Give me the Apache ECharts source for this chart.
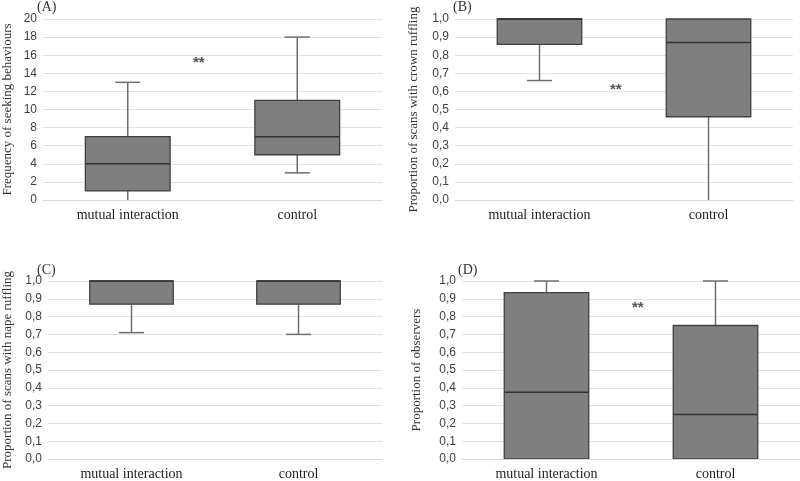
<!DOCTYPE html>
<html><head><meta charset="utf-8">
<script src="https://cdn.jsdelivr.net/npm/echarts@6/dist/echarts.min.js"></script>
<style>html,body{margin:0;padding:0;background:#fff}#c{width:800px;height:481px}</style>
</head><body><div id="c"></div>
<script>
// categories
const categories = ['mutual interaction', 'control'];
// [min, Q1, median, Q3, max] per category
const panelA = [[0, 1, 4, 7, 13], [3, 5, 7, 11, 18]];
const panelB = [[0.66, 0.86, 1.0, 1.0, 1.0], [0, 0.46, 0.87, 1.0, 1.0]];
const panelC = [[0.71, 0.87, 1.0, 1.0, 1.0], [0.70, 0.87, 1.0, 1.0, 1.0]];
const panelD = [[0, 0, 0.375, 0.935, 1.0], [0, 0, 0.25, 0.75, 1.0]];
// axis titles and panel letters
const yTitles = ['Frequency of seeking behaviours', 'Proportion of scans with crown ruffling',
                 'Proportion of scans with nape ruffling', 'Proportion of observers'];
const panelLetters = ['(A)', '(B)', '(C)', '(D)'];
const yMaxA = 20, yStepA = 2, yMaxP = 1, yStepP = 0.1;

const serif = '"Liberation Serif","Times New Roman",serif';
const sans = '"Liberation Sans",Arial,sans-serif';

const grids = [
  {left: 41, right: 418, top: 19, height: 181},
  {left: 455, right: 7, top: 19, height: 181},
  {left: 43, right: 418, top: 281, height: 180},
  {left: 462, right: 0, top: 281, height: 180}
];
const panels = [panelA, panelB, panelC, panelD];
const nameGaps = [29, 35, 34, 39];

function renderBox(params, api) {
  const x = api.value(0);
  const mn = api.value(1), q1 = api.value(2), md = api.value(3), q3 = api.value(4), mx = api.value(5);
  const cx = api.coord([x, md])[0];
  const bw = api.size([1, 0])[0] * 0.5;
  const cap = 25;
  const yMin = api.coord([x, mn])[1], yQ1 = api.coord([x, q1])[1], yMd = api.coord([x, md])[1],
        yQ3 = api.coord([x, q3])[1], yMax = api.coord([x, mx])[1];
  const wStyle = {stroke: '#6e6e6e', lineWidth: 1.5};
  const children = [];
  if (yMax < yQ3 - 0.5) {
    children.push({type: 'line', shape: {x1: cx, y1: yQ3, x2: cx, y2: yMax}, style: wStyle});
    children.push({type: 'line', shape: {x1: cx - cap / 2, y1: yMax, x2: cx + cap / 2, y2: yMax}, style: wStyle});
  }
  if (yMin > yQ1 + 0.5) {
    children.push({type: 'line', shape: {x1: cx, y1: yQ1, x2: cx, y2: yMin}, style: wStyle});
    if (mn > 0) {
      children.push({type: 'line', shape: {x1: cx - cap / 2, y1: yMin, x2: cx + cap / 2, y2: yMin}, style: wStyle});
    }
  }
  children.push({type: 'rect', shape: {x: cx - bw / 2, y: yQ3, width: bw, height: yQ1 - yQ3},
                 style: {fill: '#7f7f7f', stroke: '#404040', lineWidth: 1.3}});
  children.push({type: 'line', shape: {x1: cx - bw / 2, y1: yMd, x2: cx + bw / 2, y2: yMd},
                 style: {stroke: '#333333', lineWidth: 1.5}});
  return {type: 'group', children: children};
}

const option = {
  animation: false,
  backgroundColor: '#fff',
  grid: grids,
  xAxis: grids.map((g, i) => ({
    type: 'category', gridIndex: i, data: categories, z: 5,
    axisLine: {lineStyle: {color: '#d9d9d9', width: 1}},
    axisTick: {show: false},
    axisLabel: {fontFamily: serif, fontSize: 14, color: '#222', margin: 8}
  })),
  yAxis: grids.map((g, i) => ({
    type: 'value', gridIndex: i, min: 0,
    max: i === 0 ? yMaxA : yMaxP, interval: i === 0 ? yStepA : yStepP,
    name: yTitles[i], nameLocation: 'middle', nameGap: nameGaps[i],
    nameTextStyle: {fontFamily: serif, fontSize: 13, color: '#333'},
    axisLine: {show: false}, axisTick: {show: false},
    splitLine: {lineStyle: {color: '#e3e3e3', width: 1}},
    axisLabel: {fontFamily: sans, fontSize: 12, color: '#404040', margin: 6,
      formatter: i === 0 ? (v => String(v)) : (v => v.toFixed(1).replace('.', ','))}
  })),
  series: panels.map((p, i) => ({
    type: 'custom', xAxisIndex: i, yAxisIndex: i,
    renderItem: renderBox,
    encode: {x: 0, y: [1, 2, 3, 4, 5]},
    data: p.map((d, k) => [k].concat(d))
  })),
  graphic: [
    {type: 'text', left: 37, top: 0, style: {text: panelLetters[0], font: '14px ' + serif, fill: '#333'}},
    {type: 'text', left: 453, top: 0, style: {text: panelLetters[1], font: '14px ' + serif, fill: '#333'}},
    {type: 'text', left: 37, top: 263, style: {text: panelLetters[2], font: '14px ' + serif, fill: '#333'}},
    {type: 'text', left: 458, top: 263, style: {text: panelLetters[3], font: '14px ' + serif, fill: '#333'}},
    {type: 'text', left: 193, top: 55, style: {text: '**', font: 'bold 15px ' + sans, fill: '#555'}},
    {type: 'text', left: 610, top: 82, style: {text: '**', font: 'bold 15px ' + sans, fill: '#555'}},
    {type: 'text', left: 632, top: 300, style: {text: '**', font: 'bold 15px ' + sans, fill: '#555'}}
  ]
};
const chart = echarts.init(document.getElementById('c'), null, {renderer: 'canvas'});
chart.setOption(option);
</script></body></html>
